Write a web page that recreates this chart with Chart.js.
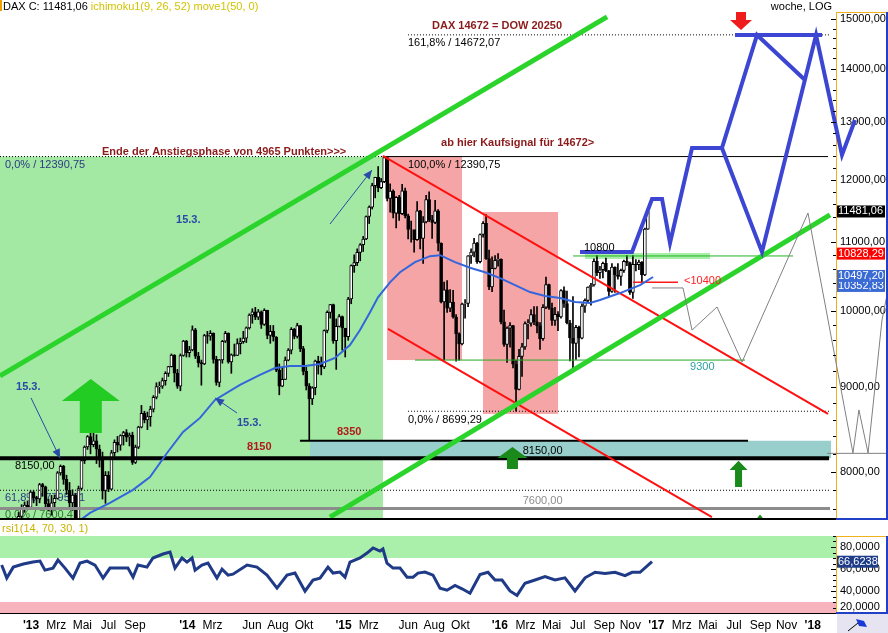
<!DOCTYPE html>
<html lang="de">
<head>
<meta charset="utf-8">
<title>DAX woche</title>
<script src="https://cdn.jsdelivr.net/npm/chart.js@4.4.1/dist/chart.umd.min.js"></script>
<style>
html,body{margin:0;padding:0;background:#fff;overflow:hidden;}
#wrap{position:relative;width:888px;height:633px;background:#fff;}
canvas{position:absolute;left:0;display:block;}
#main{top:0;}
#rsi{top:520px;}
</style>
</head>
<body>
<div id="wrap">
<canvas id="main" width="888" height="520"></canvas>
<canvas id="rsi" width="888" height="113"></canvas>
</div>
<script>
const FONT = '"Liberation Sans", Arial, Helvetica, sans-serif';

// ===== DATA =====
// weekly candles, first week starting Monday 2012-11-26
const candleStart = '2012-11-26';
const firstOpen = 7309;
const closes = [
7405,7518,7597,7636,7612,
7776,7715,7702,7857,7833,7652,7593,7661,7708,7986,8058,7913,7795,7658,7744,7459,7814,8122,8278,8399,8305,8348,8254,8127,7789,7959,7806,8212,8331,8298,8410,8445,8391,8417,8103,8276,8509,8675,8596,8635,8725,8870,9001,9009,9078,9168,9255,9405,9172,9006,9400,9589,
9435,9473,9742,9392,9306,9289,9662,9656,9692,9350,9056,9342,9587,9695,9315,9409,9401,9556,9581,9630,9768,9943,9987,9912,9987,9815,10009,9666,9720,9644,9210,9009,9092,9339,9470,9747,9651,9799,9490,9195,9010,8850,8988,9326,9291,9252,9732,9980,10087,9594,9787,9922,
9765,9648,10167,10649,10694,10846,10963,11050,11401,11550,11901,12039,11868,11967,12375,11689,11811,11454,11709,11447,11815,11413,11197,11197,11041,11492,11058,11315,11674,11347,11309,11490,10985,10124,10298,10038,10123,9916,9688,9553,10096,10104,10795,10850,10988,10708,11119,11293,10752,10340,10608,10727,
10743,9849,9545,9764,9798,9286,8967,9388,9513,9824,9831,9950,9851,9795,9622,10051,10373,10039,9870,9952,9917,10286,10103,9834,9631,9557,9776,9630,10066,10147,10337,10367,10713,10544,10588,10684,10573,10276,10626,10511,10490,10580,10711,10696,10259,10668,10664,10700,10513,11203,11481];
const highs = [
7445,7558,7640,7670,7680,
7790,7790,7730,7870,7870,7840,7700,7740,7745,8000,8074,8070,7960,7880,7800,7760,7840,8140,8290,8410,8558,8440,8420,8300,8220,8000,8000,8240,8360,8400,8420,8460,8480,8440,8450,8300,8520,8770,8700,8690,8760,8890,9050,9060,9110,9190,9260,9420,9410,9220,9420,9600,
9600,9520,9794,9760,9440,9340,9680,9720,9730,9700,9390,9350,9600,9720,9700,9420,9550,9620,9630,9720,9780,9960,10030,10050,10020,10000,10030,10010,9800,9800,9650,9290,9240,9380,9490,9770,9760,9830,9800,9520,9250,9040,9000,9340,9390,9380,9740,10000,10090,10095,9890,9950,
9930,9730,10190,10660,10810,10900,10980,11090,11410,11570,11940,12040,12220,12020,12391,12380,11930,11830,11720,11740,11920,11860,11440,11330,11170,11640,11500,11400,11740,11800,11420,11660,11510,10990,10410,10430,10300,10290,9950,9700,10110,10160,10800,10900,11060,11000,11130,11320,11430,10880,10780,10800,
10830,10750,10010,9780,9840,9800,9340,9480,9560,9850,9880,10020,10060,10060,9840,10090,10480,10380,10110,10050,9990,10300,10340,10280,9870,10200,9800,9790,10100,10170,10340,10390,10750,10800,10640,10700,10760,10580,10680,10630,10680,10600,10730,10800,10700,10800,10740,10730,10710,11220,11490];
const lows = [
7290,7370,7490,7560,7590,
7600,7660,7630,7660,7730,7600,7575,7530,7600,7700,7960,7860,7750,7600,7580,7420,7450,7800,8090,8250,8200,8280,8090,8050,7700,7655,7780,7800,8170,8220,8240,8300,8340,8290,8080,8090,8260,8500,8560,8480,8520,8690,8850,8920,8980,9020,9130,9250,9060,8980,8950,9390,
9380,9380,9460,9360,9250,9020,9280,9560,9600,9300,9020,9000,9300,9570,9300,9170,9390,9400,9420,9560,9570,9750,9830,9880,9880,9760,9800,9620,9560,9590,9190,8900,9000,9090,9330,9420,9620,9630,9450,9150,8960,8355,8780,8900,9160,9150,9230,9700,9900,9560,9220,9780,
9470,9380,9600,10100,10550,10650,10720,10860,11040,11290,11520,11700,11800,11850,11950,11650,11470,11380,11220,11340,11430,11380,11050,11000,10850,11030,10900,10680,11300,11320,11060,11290,10870,10110,9338,9980,9990,9900,9325,9340,9540,9900,10060,10680,10780,10680,10690,11080,10740,10300,10270,10600,
10640,9820,9520,9310,9510,9240,8699,8960,9130,9480,9620,9790,9810,9700,9480,9600,10030,10020,9800,9800,9730,9900,10050,9820,9330,9214,9350,9380,9620,9980,10120,10080,10350,10500,10460,10470,10560,10200,10260,10260,10450,10360,10550,10650,10230,10174,10570,10590,10400,10500,11200];

// move1(50) (x = months since Jan 2013)
const maMonths = [3.70,4.53,6.06,7.83,9.13,10.44,11.67,12.97,14.12,16.04,17.57,18.73,19.88,21.03,22.18,23.33,24.48,25.25,26.02,26.63,27.55,28.32,29.47,30.62,31.39,32.54,33.69,34.84,36.00,37.15,38.29,39.45,40.60,41.75,42.90,43.67,45.20,46.74,47.74];
const maValues = [7470,7553,7659,7799,7940,8209,8453,8619,8837,9023,9149,9238,9264,9264,9290,9367,9538,9737,9982,10191,10405,10551,10700,10790,10805,10700,10617,10551,10465,10364,10265,10209,10180,10125,10110,10153,10251,10364,10482];

// rsi1(14)
const rsiMonths = [-2.25,-1.86,-1.36,-0.59,0.15,0.69,1.07,1.69,2.07,2.61,3.22,3.76,4.30,4.91,5.53,6.06,6.83,7.44,7.83,8.21,8.90,9.36,10.13,10.67,11.05,11.59,11.97,12.36,12.59,13.12,13.58,14.27,14.66,15.12,15.50,16.58,17.34,18.11,18.88,19.65,20.26,21.03,21.64,22.18,22.79,23.18,23.71,24.10,24.48,25.25,25.79,26.25,26.78,27.01,27.32,27.78,28.32,28.86,29.32,29.70,30.24,30.85,31.39,31.93,32.54,33.08,33.69,34.46,35.07,35.61,36.15,36.76,37.30,37.91,38.68,39.45,40.21,40.98,41.75,42.52,43.29,44.05,44.82,45.59,46.13,46.74,47.66];
const rsiValues = [63.6,51.7,61.7,64.5,66.3,67.2,59.0,60.8,68.1,60.8,51.7,65.4,67.2,63.6,51.7,60.8,60.8,60.8,52.6,63.6,61.7,70.0,73.6,75.4,60.8,70.0,66.3,70.0,59.0,63.6,65.4,51.7,59.9,54.4,55.3,63.6,61.7,54.4,42.6,54.4,56.3,39.8,49.9,51.7,61.7,56.3,57.2,52.6,66.3,70.0,74.5,79.1,76.3,78.2,65.4,60.8,60.8,52.6,52.6,56.3,57.2,54.4,42.6,40.7,45,42,38,55,57,50,50,40,36,47,50,53,50,52,40,52,57,56,57,54,57,57,66.6];

// axis labels
const xTickDates = ['2013-01','2013-03','2013-05','2013-07','2013-09','2014-01','2014-03','2014-06','2014-08','2014-10','2015-01','2015-03','2015-06','2015-08','2015-10','2016-01','2016-03','2016-05','2016-07','2016-09','2016-11','2017-01','2017-03','2017-05','2017-07','2017-09','2017-11','2018-01'];
const xTickLabels = ["'13",'Mrz','Mai','Jul','Sep',"'14",'Mrz','Jun','Aug','Okt',"'15",'Mrz','Jun','Aug','Okt',"'16",'Mrz','Mai','Jul','Sep','Nov',"'17",'Mrz','Mai','Jul','Sep','Nov',"'18"];
const yTickValues = [8000,9000,10000,11000,12000,13000,14000,15000];
const rsiTickValues = [20,40,60,80];

// forecast paths
const fcMainMonths = [42.13,46.13,47.66,48.43,49.04,50.73,53.03,56.10,60.25,62.24,63.24];
const fcMainValues = [10854,10854,11682,11682,10989,12540,12540,10854,14670,12418,13036];
const fcAltMonths = [53.03,55.72,59.40];
const fcAltValues = [12540,14670,13782];
const fcTopMonths = [54.03,60.71];
const fcTopValues = [14670,14670];
const fcGreyMonths = [47.66,50.04,50.73,52.65,54.57,59.63,63.08,63.54,64.24,65.31,65.92];
const fcGreyValues = [10324,10324,9737,10055,9315,11457,8209,8715,8209,9874,10438];
const fcGreyFlatMonths = [61.10,66.0];
const fcGreyFlatValues = [8205,8205];

// trend channels
const trendLines = [
  {m:[-2.379,44.21], v:[9137,15042], color:'#2ad42a', w:5},
  {m:[22.95,61.32], v:[7510,11426], color:'#2ad42a', w:5},
  {m:[27.01,61.17], v:[12401,8667], color:'#ff1010', w:2},
  {m:[27.40,52.26], v:[9753,7510], color:'#ff1010', w:2}
];
// horizontal levels
const levelLines = [
  {m:[-2.379,27.01], v:12390.75, color:'#000', w:1, dash:[1,2]},
  {m:[27.01,61.17], v:12390.75, color:'#000', w:1},
  {m:[28.93,61.32], v:14672.07, color:'#000', w:1, dash:[1,2]},
  {m:[28.93,61.32], v:8699.29, color:'#000', w:1, dash:[1,2]},
  {m:[-2.379,61.32], v:7795, color:'#000', w:1, dash:[1,2]},
  {m:[-2.379,61.32], v:7600, color:'#8c8c8c', w:3},
  {m:[-2.379,61.25], v:8150, color:'#000', w:4},
  {m:[20.64,55.03], v:8350, color:'#000', w:2},
  {m:[29.47,54.80], v:9340, color:'#22aa22', w:1},
  {m:[41.60,58.48], v:10793, color:'#22b422', w:1},
  {m:[46.20,49.65], v:10405, color:'#ff1a1a', w:1.5}
];
// shaded zones
const zones = [
  {m:[-2.379,27.01], v:[12390.75,null], color:'#a3e8a3'},
  {m:[27.32,33.08], v:[12400,9340], color:'#f5a5a5'},
  {m:[34.69,40.45], v:[11473,8667], color:'#f5a5a5'},
  {m:[21.41,61.40], v:[8350,8150], color:'#98cfcc'},
  {m:[42.52,52.11], v:[10838,10748], color:'#a8eea8'}
];
const notes = [
  {m:5.45, v:12478, text:'Ende der Anstiegsphase von 4965 Punkten>>>', color:'#8b1a1a', bold:true},
  {m:31.47, v:12627, text:'ab hier Kaufsignal für 14672>', color:'#8b1a1a', bold:true},
  {m:30.78, v:14855, text:'DAX 14672 = DOW 20250', color:'#8b1a1a', bold:true},
  {m:28.93, v:14508, text:'161,8% / 14672,07', color:'#000'},
  {m:28.93, v:12239, text:'100,0% / 12390,75', color:'#000'},
  {m:-1.995, v:12239, text:'0,0% / 12390,75', color:'#2b3a85'},
  {m:28.93, v:8589, text:'0,0% / 8699,29', color:'#000'},
  {m:37.74, v:8232, text:'8150,00', color:'#000'},
  {m:37.74, v:7680, text:'7600,00', color:'#8c8c8c'},
  {m:-1.23, v:8058, text:'8150,00', color:'#000'},
  {m:16.58, v:8278, text:'8150', color:'#b01c1c', bold:true},
  {m:23.48, v:8453, text:'8350', color:'#b01c1c', bold:true},
  {m:42.44, v:10921, text:'10800', color:'#000'},
  {m:50.12, v:10425, text:'<10400', color:'#ff2020'},
  {m:50.58, v:9250, text:'9300', color:'#2aa3a0'},
  {m:-1.15, v:8997, text:'15.3.', color:'#2a4aa8', bold:true},
  {m:11.13, v:11348, text:'15.3.', color:'#2a4aa8', bold:true},
  {m:15.81, v:8559, text:'15.3.', color:'#2a4aa8', bold:true},
  {m:-2.0, v:7713, text:'61,8% / 7795,91', color:'#2b3a85', below:true},
  {m:-2.0, v:7533, text:'0,0% / 7600,4', color:'#2a7a2a', below:true}
];
const pointerLines = [
  {m:[0.0,2.23], v:[8862,8152]},
  {m:[22.95,26.17], v:[11283,12162]},
  {m:[15.81,14.12], v:[8678,8862]}
];
const upArrows = [
  {m:4.59, v:[9098,8824,8441], hw:29, sw:11, color:'#22cc22'},
  {m:36.95, v:[8278,8152,8029], hw:15, sw:5.5, color:'#1a8a1a'},
  {m:54.30, v:[8120,8018,7830], hw:9, sw:3.5, color:'#1a8a1a'},
  {m:55.95, v:[7537,7420,7300], hw:9, sw:3.5, color:'#1a8a1a'}
];
const downArrows = [
  {m:54.49, v:[15146,14979,14773], hw:11, sw:5, color:'#ee1c1c'}
];
const priceTags = [
  {v:10352.83, bg:'#3a6ad4'},
  {v:10497.20, bg:'#3a6ad4'},
  {v:10828.29, bg:'#ff0000'},
  {v:11481.06, bg:'#000000'}
];
const rsiLast = 66.6238;
const rsiBands = [{from:70, to:90, color:'#aaf0aa'}, {from:20, to:30, color:'#f8b4bc'}];
const headerMain = 'DAX C: 11481,06';
const headerInd = ' ichimoku1(9, 26, 52) move1(50, 0)';
const headerRight = 'woche, LOG';
const rsiTitle = 'rsi1(14, 70, 30, 1)';

// ===== helpers =====
const DAY = 86400000, MONTH = DAY * 365.25 / 12, ORIGIN = Date.UTC(2013, 0, 1);
const X_MIN = -2.379, X_MAX = 61.78;
const Y_MIN = 7490, Y_MAX = 15146;
const startT = Date.UTC(+candleStart.slice(0,4), +candleStart.slice(5,7)-1, +candleStart.slice(8,10));
const candleX = closes.map((_, i) => (startT + i * 7 * DAY - ORIGIN) / MONTH);
const opens = closes.map((c, i) => i === 0 ? firstOpen : closes[i-1]);
const xTickMonths = xTickDates.map(s => (Date.UTC(+s.slice(0,4), +s.slice(5,7)-1, 1) - ORIGIN) / MONTH);
const fmt = (v, d) => v.toFixed(d).replace('.', ',');
const pts = (ms, vs) => ms.map((m, i) => ({x: m, y: vs[i]}));
const noPad = s => { s.paddingTop = 0; s.paddingBottom = 0; s.paddingLeft = 0; s.paddingRight = 0; };

function lineDS(points, color, w, extra) {
  return Object.assign({type:'line', data:points, borderColor:color, borderWidth:w, pointRadius:0,
    fill:false, tension:0, order:4}, extra || {});
}

const datasets = [];
datasets.push({type:'bar', data: candleX.map((x,i)=>({x, y:[lows[i], highs[i]]})), backgroundColor:'#000',
  borderWidth:0, barThickness:1, grouped:false, order:20});
datasets.push({type:'bar', data: candleX.map((x,i)=>({x, y:[opens[i], closes[i]]})),
  backgroundColor: closes.map((c,i)=> c >= opens[i] ? '#ffffff' : '#000000'),
  borderColor:'#000', borderWidth:1, borderSkipped:false, barThickness:3, grouped:false, order:19});
levelLines.forEach(l => datasets.push(lineDS([{x:l.m[0],y:l.v},{x:l.m[1],y:l.v}], l.color, l.w, {borderDash:l.dash||[], order:6})));
trendLines.forEach(t => datasets.push(lineDS(pts(t.m, t.v), t.color, t.w, {order:3})));
datasets.push(lineDS(pts(maMonths, maValues), '#3366dd', 2, {order:2}));
datasets.push(lineDS(pts(fcGreyMonths, fcGreyValues).reverse(), '#808080', 1, {order:1, clip:false}));
datasets.push(lineDS(pts(fcGreyFlatMonths, fcGreyFlatValues).reverse(), '#808080', 1, {order:1, clip:false}));
datasets.push(lineDS(pts(fcMainMonths, fcMainValues).reverse(), '#3c46d2', 4, {order:0, clip:false, borderJoinStyle:'miter'}));
datasets.push(lineDS(pts(fcAltMonths, fcAltValues).reverse(), '#3c46d2', 4, {order:0, clip:false}));
datasets.push(lineDS(pts(fcTopMonths, fcTopValues), '#3c46d2', 4, {order:0}));

function drawText(ctx, s, x, y, color, bold, align) {
  ctx.font = (bold ? 'bold ' : '') + '11px ' + FONT;
  ctx.fillStyle = color; ctx.textAlign = align || 'left'; ctx.textBaseline = 'middle';
  ctx.fillText(s, x, y);
}

const mainDecor = {
  id: 'mainDecor',
  beforeDatasetsDraw(ch) {
    const {ctx, chartArea:a, scales:{x, y}} = ch;
    ctx.save();
    ctx.beginPath(); ctx.rect(a.left, a.top, a.right - a.left, a.bottom - a.top); ctx.clip();
    zones.forEach(z => {
      const x0 = x.getPixelForValue(z.m[0]), x1 = x.getPixelForValue(z.m[1]);
      const y0 = y.getPixelForValue(z.v[0]), y1 = z.v[1] === null ? a.bottom : y.getPixelForValue(z.v[1]);
      ctx.fillStyle = z.color; ctx.fillRect(x0, y0, x1 - x0, y1 - y0);
    });
    notes.filter(n => n.below).forEach(n => drawText(ctx, n.text, x.getPixelForValue(n.m), y.getPixelForValue(n.v), n.color, n.bold));
    ctx.restore();
  },
  afterDatasetsDraw(ch) {
    const {ctx, chartArea:a, scales:{x, y}} = ch;
    ctx.save();
    ctx.beginPath(); ctx.rect(a.left, a.top, a.right - a.left, a.bottom - a.top); ctx.clip();
    upArrows.forEach(r => {
      const cx = x.getPixelForValue(r.m), t = y.getPixelForValue(r.v[0]), h = y.getPixelForValue(r.v[1]), b = y.getPixelForValue(r.v[2]);
      ctx.fillStyle = r.color; ctx.beginPath();
      ctx.moveTo(cx, t); ctx.lineTo(cx + r.hw, h); ctx.lineTo(cx + r.sw, h); ctx.lineTo(cx + r.sw, b);
      ctx.lineTo(cx - r.sw, b); ctx.lineTo(cx - r.sw, h); ctx.lineTo(cx - r.hw, h); ctx.closePath(); ctx.fill();
    });
    downArrows.forEach(r => {
      const cx = x.getPixelForValue(r.m), t = y.getPixelForValue(r.v[0]), h = y.getPixelForValue(r.v[1]), b = y.getPixelForValue(r.v[2]);
      ctx.fillStyle = r.color; ctx.beginPath();
      ctx.moveTo(cx - r.sw, t); ctx.lineTo(cx + r.sw, t); ctx.lineTo(cx + r.sw, h); ctx.lineTo(cx + r.hw, h);
      ctx.lineTo(cx, b); ctx.lineTo(cx - r.hw, h); ctx.lineTo(cx - r.sw, h); ctx.closePath(); ctx.fill();
    });
    pointerLines.forEach(p => {
      const x0 = x.getPixelForValue(p.m[0]), y0 = y.getPixelForValue(p.v[0]);
      const x1 = x.getPixelForValue(p.m[1]), y1 = y.getPixelForValue(p.v[1]);
      ctx.strokeStyle = '#2a4aa8'; ctx.lineWidth = 1; ctx.beginPath(); ctx.moveTo(x0, y0); ctx.lineTo(x1, y1); ctx.stroke();
      const ang = Math.atan2(y1 - y0, x1 - x0), L = 9, W = 4;
      ctx.fillStyle = '#2a4aa8'; ctx.beginPath(); ctx.moveTo(x1, y1);
      ctx.lineTo(x1 - L*Math.cos(ang) + W*Math.sin(ang), y1 - L*Math.sin(ang) - W*Math.cos(ang));
      ctx.lineTo(x1 - L*Math.cos(ang) - W*Math.sin(ang), y1 - L*Math.sin(ang) + W*Math.cos(ang));
      ctx.closePath(); ctx.fill();
    });
    notes.filter(n => !n.below).forEach(n => drawText(ctx, n.text, x.getPixelForValue(n.m), y.getPixelForValue(n.v), n.color, n.bold));
    ctx.restore();
  },
  afterDraw(ch) {
    const {ctx, chartArea:a, scales:{y}} = ch;
    ctx.save();
    ctx.strokeStyle = '#000'; ctx.lineWidth = 1;
    for (let v = 7600; v <= 15000; v += 200) {
      const py = Math.round(y.getPixelForValue(v)) + 0.5;
      const len = v % 1000 === 0 ? 5 : 3;
      ctx.beginPath(); ctx.moveTo(a.right - len, py); ctx.lineTo(a.right, py); ctx.stroke();
    }
    ctx.strokeStyle = '#f0b020'; ctx.beginPath(); ctx.moveTo(a.right, a.top + 0.5); ctx.lineTo(886, a.top + 0.5); ctx.stroke();
    ctx.strokeStyle = '#2040c8'; ctx.lineWidth = 2; ctx.beginPath(); ctx.moveTo(887, a.top); ctx.lineTo(887, 520); ctx.stroke();
    ctx.strokeStyle = '#000'; ctx.lineWidth = 2; ctx.beginPath(); ctx.moveTo(0, 519); ctx.lineTo(a.right, 519); ctx.stroke();
    ctx.strokeStyle = '#2040c8'; ctx.beginPath(); ctx.moveTo(a.right, 519); ctx.lineTo(888, 519); ctx.stroke();
    priceTags.forEach(p => {
      const py = y.getPixelForValue(p.v);
      ctx.fillStyle = p.bg; ctx.fillRect(a.right + 1, py - 6, 48, 12);
      drawText(ctx, fmt(p.v, 2), a.right + 2, py, '#fff', false);
    });
    ctx.fillStyle = '#f0a000'; ctx.fillRect(0, 0, 2, 11);
    drawText(ctx, headerMain, 3, 7, '#000', false);
    ctx.font = '11px ' + FONT;
    const w = ctx.measureText(headerMain).width;
    drawText(ctx, headerInd, 3 + w, 7, '#d2c400', false);
    drawText(ctx, headerRight, 832, 7, '#000', false, 'right');
    ctx.restore();
  }
};

Chart.defaults.font.family = FONT;

new Chart(document.getElementById('main'), {
  type: 'bar',
  data: { datasets },
  options: {
    responsive: false, animation: false, events: [],
    layout: { padding: { top: 12, bottom: 1, left: 0, right: 0 } },
    plugins: { legend: { display: false }, tooltip: { enabled: false } },
    scales: {
      x: { type: 'linear', min: X_MIN, max: X_MAX, offset: false, display: false, grid: { offset: false }, afterFit: noPad },
      y: {
        type: 'logarithmic', position: 'right', min: Y_MIN, max: Y_MAX,
        afterFit: s => { s.width = 52; noPad(s); },
        afterBuildTicks: s => { s.ticks = yTickValues.map(v => ({ value: v })); },
        ticks: { callback: v => fmt(v, 2), color: '#000', font: { size: 11, family: FONT }, padding: 4, autoSkip: false },
        grid: { display: false, drawTicks: false },
        border: { display: true, color: '#f0b020', width: 1 }
      }
    }
  },
  plugins: [mainDecor]
});

const rsiDecor = {
  id: 'rsiDecor',
  beforeDatasetsDraw(ch) {
    const {ctx, chartArea:a, scales:{y}} = ch;
    ctx.save();
    rsiBands.forEach(b => {
      const y0 = y.getPixelForValue(b.to), y1 = y.getPixelForValue(b.from);
      ctx.fillStyle = b.color; ctx.fillRect(a.left, y0, a.right - a.left, y1 - y0);
    });
    ctx.restore();
  },
  afterDraw(ch) {
    const {ctx, chartArea:a, scales:{y}} = ch;
    ctx.save();
    ctx.strokeStyle = '#000'; ctx.lineWidth = 1;
    for (let v = 20; v <= 90; v += 5) {
      const py = Math.round(y.getPixelForValue(v)) + 0.5;
      const len = v % 20 === 0 ? 5 : 3;
      ctx.beginPath(); ctx.moveTo(a.right - len, py); ctx.lineTo(a.right, py); ctx.stroke();
    }
    ctx.strokeStyle = '#f0b020'; ctx.beginPath(); ctx.moveTo(a.right, a.top + 0.5); ctx.lineTo(886, a.top + 0.5); ctx.stroke();
    ctx.strokeStyle = '#2040c8'; ctx.lineWidth = 2;
    ctx.beginPath(); ctx.moveTo(887, a.top); ctx.lineTo(887, a.bottom); ctx.stroke();
    ctx.beginPath(); ctx.moveTo(a.right, a.bottom); ctx.lineTo(888, a.bottom); ctx.stroke();
    const py = y.getPixelForValue(rsiLast);
    ctx.fillStyle = '#1f3c88'; ctx.fillRect(a.right + 1, py - 6, 41, 12);
    drawText(ctx, fmt(rsiLast, 4), a.right + 2, py, '#fff', false);
    drawText(ctx, rsiTitle, 2, 9, '#c8b400', false);
    ctx.fillStyle = '#e6e4f0'; ctx.fillRect(a.right + 1, a.bottom + 1, 52, 20);
    ctx.strokeStyle = '#000'; ctx.lineWidth = 1; ctx.beginPath(); ctx.moveTo(a.right + 12, a.bottom + 18); ctx.lineTo(a.right + 22, a.bottom + 10); ctx.stroke();
    ctx.fillStyle = '#1838d8'; ctx.beginPath(); ctx.moveTo(a.right + 20, a.bottom + 6); ctx.lineTo(a.right + 28, a.bottom + 8);
    ctx.lineTo(a.right + 31, a.bottom + 14); ctx.lineTo(a.right + 23, a.bottom + 13); ctx.closePath(); ctx.fill();
    ctx.restore();
  }
};

new Chart(document.getElementById('rsi'), {
  type: 'line',
  data: { datasets: [{ data: pts(rsiMonths, rsiValues), borderColor: '#1f3a86', borderWidth: 3, pointRadius: 0, tension: 0, fill: false }] },
  options: {
    responsive: false, animation: false, events: [],
    layout: { padding: { top: 16, bottom: 0, left: 0, right: 0 } },
    plugins: { legend: { display: false }, tooltip: { enabled: false } },
    scales: {
      x: {
        type: 'linear', min: X_MIN, max: X_MAX, offset: false,
        afterFit: s => { s.height = 20; noPad(s); },
        afterBuildTicks: s => { s.ticks = xTickMonths.map(v => ({ value: v })); },
        ticks: {
          autoSkip: false, maxRotation: 0, minRotation: 0, padding: 5, color: '#000',
          callback: (v, i) => xTickLabels[i],
          font: ctx => ({ family: FONT, size: 12, weight: (xTickLabels[ctx.index] || '').startsWith("'") ? 'bold' : 'normal' })
        },
        grid: { display: false, drawTicks: false },
        border: { display: true, color: '#000', width: 2 }
      },
      y: {
        type: 'linear', position: 'right', min: 20, max: 90,
        afterFit: s => { s.width = 52; noPad(s); },
        afterBuildTicks: s => {
          s.ticks = rsiTickValues.map(v => ({ value: v }));
          if (!s._clamped) {
            const orig = s.getPixelForTick.bind(s);
            s.getPixelForTick = i => Math.min(orig(i), s.bottom - 6);
            s._clamped = true;
          }
        },
        ticks: { callback: v => fmt(v, 4), color: '#000', font: { size: 11, family: FONT }, padding: 4, autoSkip: false },
        grid: { display: false, drawTicks: false },
        border: { display: true, color: '#f0b020', width: 1 }
      }
    }
  },
  plugins: [rsiDecor]
});
</script>
</body>
</html>
